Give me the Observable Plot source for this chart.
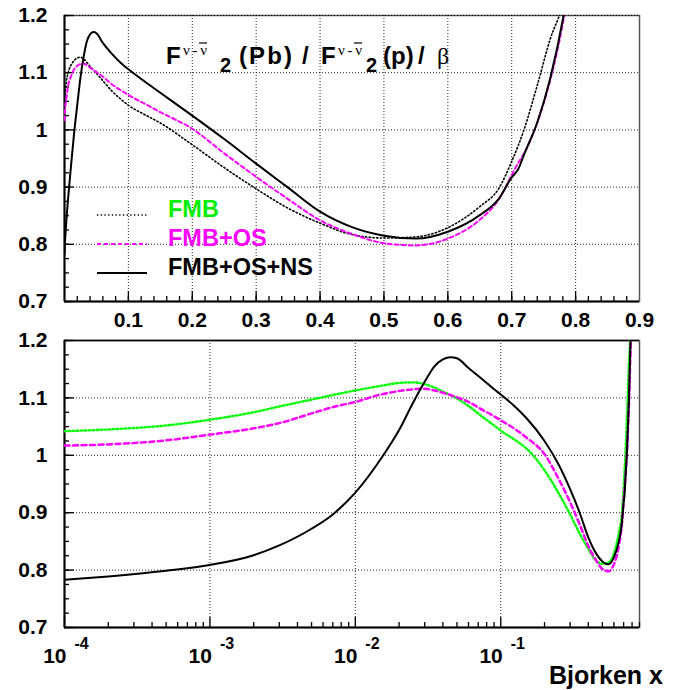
<!DOCTYPE html>
<html><head><meta charset="utf-8">
<script src="https://cdn.jsdelivr.net/npm/d3@7"></script>
<script src="https://cdn.jsdelivr.net/npm/@observablehq/plot@0.6"></script>
<style>
html,body{margin:0;padding:0;background:#fff;}
#wrap{position:relative;width:695px;height:690px;overflow:hidden;background:#fff;}
#top,#bottom{position:absolute;left:0;}
#top{top:0;} #bottom{top:335px;}
svg{display:block}
</style></head><body>
<div id="wrap"><div id="top"></div><div id="bottom"></div></div>
<script>
// Bjorken x grid shared by all three curves
const xs = [0.0001, 0.0002, 0.0005, 0.001, 0.002, 0.003, 0.005, 0.007, 0.01, 0.015, 0.02, 0.025, 0.03, 0.035, 0.04, 0.045, 0.05, 0.06, 0.075, 0.09, 0.1, 0.125, 0.15, 0.2, 0.25, 0.3, 0.35, 0.4, 0.45, 0.5, 0.55, 0.6, 0.65, 0.68, 0.7, 0.71, 0.72, 0.74, 0.76, 0.78, 0.79];
// FMB
const fmb = [1.042, 1.045, 1.052, 1.062, 1.075, 1.085, 1.097, 1.105, 1.113, 1.121, 1.126, 1.127, 1.124, 1.118, 1.111, 1.105, 1.099, 1.086, 1.067, 1.052, 1.043, 1.027, 1.012, 0.974, 0.934, 0.897, 0.863, 0.837, 0.817, 0.811, 0.813, 0.829, 0.866, 0.898, 0.945, 0.972, 1.003, 1.078, 1.158, 1.22, 1.27];
// FMB+OS
const fmbOS = [1.017, 1.019, 1.026, 1.036, 1.047, 1.056, 1.073, 1.084, 1.093, 1.106, 1.112, 1.115, 1.116, 1.113, 1.109, 1.105, 1.101, 1.093, 1.079, 1.068, 1.061, 1.046, 1.031, 1.002, 0.959, 0.918, 0.879, 0.842, 0.818, 0.802, 0.798, 0.810, 0.843, 0.879, 0.921, 0.942, 0.960, 1.013, 1.086, 1.186, 1.25];
// FMB+OS+NS
const fmbOSNS = [0.783, 0.789, 0.799, 0.809, 0.826, 0.843, 0.872, 0.897, 0.935, 0.994, 1.044, 1.092, 1.128, 1.155, 1.167, 1.171, 1.169, 1.152, 1.132, 1.115, 1.106, 1.085, 1.065, 1.025, 0.984, 0.941, 0.899, 0.857, 0.830, 0.815, 0.810, 0.822, 0.851, 0.880, 0.917, 0.931, 0.959, 1.013, 1.089, 1.193, 1.26];

const legendLabels = ["FMB", "FMB+OS", "FMB+OS+NS"];
const legendColors = ["#00ee00", "#ff00ff", "#000000"];

const yMajor = [0.7, 0.8, 0.9, 1.0, 1.1, 1.2];
const yGrid = [0.8, 0.9, 1.0, 1.1, 1.2];
const yMinor = d3.range(0.7, 1.2001, 0.025).map(v => +v.toFixed(3));
const topXLabels = [0.1, 0.2, 0.3, 0.4, 0.5, 0.6, 0.7, 0.8, 0.9];
const topXGrid = [0.1, 0.2, 0.3, 0.4, 0.5, 0.6, 0.7, 0.8];
const topXMinor = d3.range(0.02, 0.9, 0.02).map(v => +v.toFixed(2));
const logExps = [-4, -3, -2, -1];
const logGrid = [1e-3, 1e-2, 1e-1];
const logMinor = [];
for (const e of logExps) for (let m = 2; m <= 9; m++) { const v = m * 10 ** e; if (v <= 0.9) logMinor.push(v); }

const rowsOf = ys => xs.map((x, i) => ({x, y: ys[i]}));
const dFMB = rowsOf(fmb), dOS = rowsOf(fmbOS), dNS = rowsOf(fmbOSNS);

const FONT = "'Liberation Sans', Arial, Helvetica, sans-serif";
const SERIF = "'Liberation Serif', 'DejaVu Serif', serif";
const baseStyle = {fontFamily: FONT, fontSize: "21px", fontWeight: "bold", background: "#fff", color: "#000", overflow: "visible"};
const gridStyle = {stroke: "#000", strokeDasharray: "1,2", strokeWidth: 1, strokeOpacity: 0.85};

function yAxes() {
  return [
    Plot.axisY(yMinor, {anchor: "left", tickSize: -5, tickFormat: () => "", label: null, strokeWidth: 1.3}),
    Plot.axisY(yMajor, {anchor: "left", tickSize: -10, tickFormat: () => "", label: null, strokeWidth: 1.3}),
    Plot.axisY(yMajor, {anchor: "left", tickSize: 0, tickPadding: 17, tickFormat: d3.format("~g"), label: null, fontSize: 21, fontWeight: "bold"})
  ];
}
function fixAxisText(svg) {
  d3.select(svg).selectAll('g[aria-label$="tick label"] text')
    .style("font-size", "21px").style("font-weight", "bold").style("font-family", FONT);
}

// ---------- TOP PANEL (linear x) ----------
const topPlot = Plot.plot({
  width: 695, height: 335,
  marginLeft: 64, marginRight: 56, marginTop: 15, marginBottom: 34,
  style: baseStyle,
  x: {type: "linear", domain: [0, 0.9]},
  y: {domain: [0.7, 1.2]},
  marks: [
    Plot.frame({stroke: "#555", strokeWidth: 1.5}),
    Plot.ruleX(topXGrid, gridStyle),
    Plot.ruleY(yGrid, gridStyle),
    Plot.ruleX([0], {stroke: "#000", strokeWidth: 2}),
    Plot.ruleY([0.7], {stroke: "#000", strokeWidth: 2}),
    Plot.axisX(topXMinor, {anchor: "bottom", tickSize: -5, tickFormat: () => "", label: null, strokeWidth: 1.3}),
    Plot.axisX(topXGrid, {anchor: "bottom", tickSize: -10, tickFormat: () => "", label: null, strokeWidth: 1.3}),
    Plot.axisX(topXLabels, {anchor: "bottom", tickSize: 0, tickPadding: 11, tickFormat: d3.format("~g"), label: null, fontSize: 21, fontWeight: "bold"}),
    ...yAxes(),
    Plot.line(dFMB, {x: "x", y: "y", stroke: "#000", strokeWidth: 1.6, strokeDasharray: "1.3,2.4", curve: "monotone-x", clip: true}),
    Plot.line(dOS, {x: "x", y: "y", stroke: "#ff00ff", strokeWidth: 2, strokeDasharray: "4,3", curve: "monotone-x", clip: true}),
    Plot.line(dNS, {x: "x", y: "y", stroke: "#000", strokeWidth: 2, curve: "monotone-x", clip: true})
  ]
});
document.getElementById("top").appendChild(topPlot);
fixAxisText(topPlot);

// title and legend overlays (top panel)
{
  const svg = d3.select(topPlot);
  const g = svg.append("g").attr("text-anchor", "start");
  const piece = (txt, x, y, size, weight, family, len) => {
    const t = g.append("text").attr("x", x).attr("y", y).attr("text-anchor", "start")
      .style("font-size", size + "px").style("font-weight", weight).style("font-family", family)
      .attr("fill", "#000").text(txt);
    if (len) t.attr("textLength", len).attr("lengthAdjust", "spacing");
    return t;
  };
  piece("F", 166, 64, 24, "bold", FONT);
  piece("\u03bd-\u03bd", 183, 55, 15, "normal", SERIF, 24);
  g.append("line").attr("x1", 199).attr("x2", 207).attr("y1", 43).attr("y2", 43).attr("stroke", "#000").attr("stroke-width", 1.2);
  piece("2", 220, 72, 20, "bold", FONT);
  piece("(Pb)", 239, 64, 24, "bold", FONT, 53);
  piece("/", 302, 64, 24, "bold", FONT);
  piece("F", 321, 64, 24, "bold", FONT);
  piece("\u03bd-\u03bd", 338, 55, 15, "normal", SERIF, 24);
  g.append("line").attr("x1", 354).attr("x2", 362).attr("y1", 43).attr("y2", 43).attr("stroke", "#000").attr("stroke-width", 1.2);
  piece("2", 366, 72, 20, "bold", FONT);
  piece("(p)", 383, 64, 24, "bold", FONT);
  piece("/", 418, 64, 24, "bold", FONT);
  piece("\u03b2", 437, 64, 24, "normal", SERIF);

  const ly = [215, 244, 273];
  const styles = [
    {stroke: "#000", w: 1.6, dash: "1.3,2.4"},
    {stroke: "#ff00ff", w: 2, dash: "4,3"},
    {stroke: "#000", w: 2, dash: null}
  ];
  legendLabels.forEach((lab, i) => {
    const l = g.append("line").attr("x1", 97).attr("x2", 147).attr("y1", ly[i]).attr("y2", ly[i])
      .attr("stroke", styles[i].stroke).attr("stroke-width", styles[i].w);
    if (styles[i].dash) l.attr("stroke-dasharray", styles[i].dash);
    g.append("text").attr("x", 168).attr("y", ly[i] + 1.5).attr("text-anchor", "start")
      .style("font-size", "23.5px").style("font-weight", "bold").style("font-family", FONT)
      .attr("fill", legendColors[i]).text(lab);
  });
}

// ---------- BOTTOM PANEL (log x) ----------
const bottomPlot = Plot.plot({
  width: 695, height: 355,
  marginLeft: 64, marginRight: 56, marginTop: 5, marginBottom: 63,
  style: baseStyle,
  x: {type: "log", domain: [1e-4, 0.9]},
  y: {domain: [0.7, 1.2]},
  marks: [
    Plot.frame({stroke: "#555", strokeWidth: 1.5}),
    Plot.ruleX(logGrid, gridStyle),
    Plot.ruleY(yGrid.filter(v => v < 1.2), gridStyle),
    Plot.ruleY([1.2], {stroke: "#000", strokeWidth: 1.5}),
    Plot.ruleX([1e-4], {stroke: "#000", strokeWidth: 2}),
    Plot.ruleY([0.7], {stroke: "#000", strokeWidth: 2}),
    Plot.axisX(logMinor, {anchor: "bottom", tickSize: -5, tickFormat: () => "", label: null, strokeWidth: 1.3}),
    Plot.axisX(logExps.map(e => 10 ** e), {anchor: "bottom", tickSize: -10, tickFormat: () => "", label: null, strokeWidth: 1.3}),
    Plot.text(logExps, {x: d => 10 ** d, text: () => "10", frameAnchor: "bottom", lineAnchor: "top", dy: 21, dx: 2, textAnchor: "end", fontSize: 21, fontWeight: "bold"}),
    Plot.text(logExps, {x: d => 10 ** d, text: d => String(d), frameAnchor: "bottom", lineAnchor: "top", dy: 10, dx: 10, textAnchor: "start", fontSize: 16, fontWeight: "bold"}),
    ...yAxes(),
    Plot.line(dFMB, {x: "x", y: "y", stroke: "#00ff00", strokeWidth: 2.4, strokeDasharray: "1.6,2.4", curve: "monotone-x", clip: true}),
    Plot.line(dOS, {x: "x", y: "y", stroke: "#ff00ff", strokeWidth: 2.5, strokeDasharray: "5,3.5", curve: "monotone-x", clip: true}),
    Plot.line(dNS, {x: "x", y: "y", stroke: "#000", strokeWidth: 2, curve: "monotone-x", clip: true})
  ]
});
document.getElementById("bottom").appendChild(bottomPlot);
fixAxisText(bottomPlot);
{
  const groups = d3.select(bottomPlot).selectAll('g[aria-label="text"]').nodes();
  const sizes = [21, 16];
  groups.forEach((gn, i) => {
    d3.select(gn).selectAll("text").style("font-size", (sizes[i] || 21) + "px")
      .style("font-weight", "bold").style("font-family", FONT);
  });
}
d3.select(bottomPlot).append("text").attr("x", 663).attr("y", 349).attr("text-anchor", "end")
  .style("font-size", "25px").style("font-weight", "bold").style("font-family", FONT).attr("fill", "#000").text("Bjorken x");
</script>
</body></html>
